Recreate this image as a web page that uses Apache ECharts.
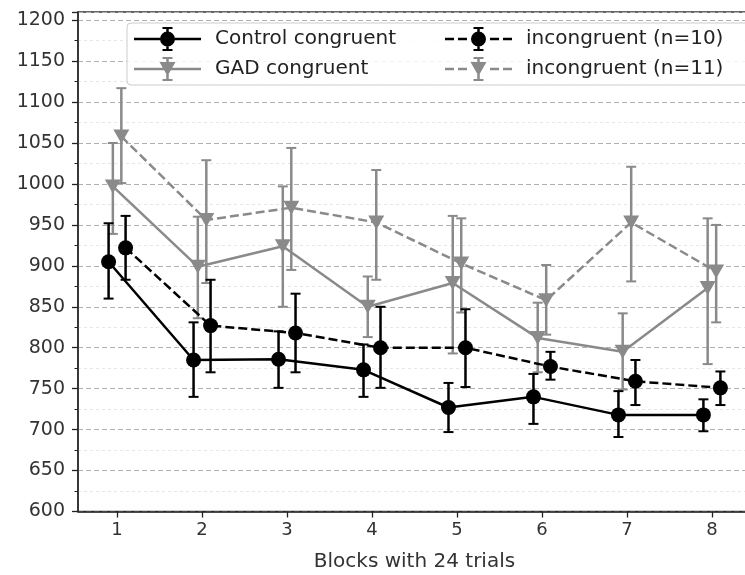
<!DOCTYPE html>
<html>
<head>
<meta charset="utf-8">
<script src="https://cdn.jsdelivr.net/npm/echarts@6/dist/echarts.min.js"></script>
<style>
html,body{margin:0;padding:0;background:#fff;}
#chart{width:745px;height:575px;}
</style>
</head>
<body>
<div id="chart"></div>
<script>
// ---- data ----
const blocks = [1, 2, 3, 4, 5, 6, 7, 8];
const yTicks = [600, 650, 700, 750, 800, 850, 900, 950, 1000, 1050, 1100, 1150, 1200];

const controlCong   = [905, 785, 786, 773, 727, 740, 718, 718];
const controlCongLo = [860, 740, 751, 740, 697, 707, 691, 698];
const controlCongHi = [952, 831, 820, 804, 757, 768, 747, 737];

const controlIncong   = [922, 827, 818, 800, 800, 777, 759, 751];
const controlIncongLo = [883, 770, 770, 751, 752, 761, 730, 730];
const controlIncongHi = [961, 883, 866, 850, 847, 795, 785, 771];

const gadCong   = [997, 899, 924, 850, 879, 812, 795, 873];
const gadCongLo = [939, 836, 850, 813, 793, 770, 749, 780];
const gadCongHi = [1050, 960, 997, 887, 961, 855, 842, 958];

const gadIncong   = [1058, 956, 971, 953, 903, 858, 953, 893];
const gadIncongLo = [1001, 879, 895, 883, 843, 816, 881, 831];
const gadIncongHi = [1117, 1029, 1044, 1017, 958, 901, 1021, 950];

const seriesNames = ['Control congruent', 'GAD congruent', 'incongruent (n=10)', 'incongruent (n=11)'];
const xTitle = 'Blocks with 24 trials';

// ---- styles ----
const BLACK = '#000000';
const GRAY = '#8a8a8a';
const FONT = 'DejaVu Sans';

// legend icons (handle with error bar), 67 x 24 box
const solidLine = 'M0 10.75 L67 10.75 L67 13.25 L0 13.25 Z ';
const dashLine = 'M0 10.75 L9 10.75 L9 13.25 L0 13.25 Z M13 10.75 L22 10.75 L22 13.25 L13 13.25 Z M45 10.75 L54 10.75 L54 13.25 L45 13.25 Z M58 10.75 L67 10.75 L67 13.25 L58 13.25 Z ';
const errBar = 'M32.25 1 L34.75 1 L34.75 23 L32.25 23 Z M28.5 0 L38.5 0 L38.5 2 L28.5 2 Z M28.5 22 L38.5 22 L38.5 24 L28.5 24 Z ';
const circ = 'M41 12 A7.5 7.5 0 1 1 26 12 A7.5 7.5 0 1 1 41 12 Z';
const tri = 'M25.5 5 L41.5 5 L33.5 19 Z';
const icons = {
  cc: 'path://' + solidLine + errBar + circ,
  gc: 'path://' + solidLine + errBar + tri,
  ci: 'path://' + dashLine + errBar + circ,
  gi: 'path://' + dashLine + errBar + tri
};

function pts(vals, off) { return vals.map((v, i) => [blocks[i] + off, v]); }

function lineSeries(name, vals, off, color, dashed, sym, z) {
  return {
    type: 'line', name: name, data: pts(vals, off), z: z,
    symbol: sym === 'circle' ? 'circle' : 'triangle',
    symbolRotate: sym === 'circle' ? 0 : 180,
    symbolSize: sym === 'circle' ? 15 : [16, 14],
    itemStyle: { color: color },
    lineStyle: { color: color, width: 2.5, type: dashed ? [9, 4] : 'solid' },
    animation: false
  };
}

function errSeries(name, lo, hi, off, color, z) {
  return {
    type: 'custom', name: name + ' err', z: z, silent: true, animation: false,
    data: lo.map((l, i) => [blocks[i] + off, l, hi[i]]),
    encode: { x: 0, y: [1, 2] },
    renderItem: function (params, api) {
      const x = api.value(0);
      const p1 = api.coord([x, api.value(1)]);
      const p2 = api.coord([x, api.value(2)]);
      const cw = 5;
      return {
        type: 'group',
        children: [
          { type: 'line', shape: { x1: p1[0], y1: p1[1], x2: p2[0], y2: p2[1] }, style: { stroke: color, lineWidth: 2.5 } },
          { type: 'line', shape: { x1: p1[0] - cw, y1: p1[1], x2: p1[0] + cw, y2: p1[1] }, style: { stroke: color, lineWidth: 2 } },
          { type: 'line', shape: { x1: p2[0] - cw, y1: p2[1], x2: p2[0] + cw, y2: p2[1] }, style: { stroke: color, lineWidth: 2 } }
        ]
      };
    }
  };
}

const chart = echarts.init(document.getElementById('chart'), null, { renderer: 'canvas' });

const legendText = { fontFamily: FONT, fontSize: 20, color: '#222', padding: [0, 0, 0, 9] };

const option = {
  backgroundColor: '#ffffff',
  textStyle: { fontFamily: FONT },
  grid: {
    left: 78, right: -6, top: 12, bottom: 63.5,
    outerBoundsMode: 'none', containLabel: false,
    show: true, borderColor: '#333', borderWidth: 1.3, backgroundColor: 'transparent'
  },
  legend: [
    {
      data: [
        { name: seriesNames[0], icon: icons.cc },
        { name: seriesNames[1], icon: icons.gc }
      ],
      orient: 'vertical', left: 127, top: 23,
      padding: [4, 400, 4, 7],
      itemWidth: 67, itemHeight: 24, itemGap: 6,
      textStyle: legendText,
      itemStyle: { borderWidth: 0 },
      backgroundColor: 'rgba(255,255,255,0.85)',
      borderColor: '#cccccc', borderWidth: 1, borderRadius: 4,
      z: 5, selectedMode: false
    },
    {
      data: [
        { name: seriesNames[2], icon: icons.ci },
        { name: seriesNames[3], icon: icons.gi }
      ],
      orient: 'vertical', left: 445, top: 23,
      padding: [4, 5, 4, 0],
      itemWidth: 67, itemHeight: 24, itemGap: 6,
      textStyle: legendText,
      itemStyle: { borderWidth: 0 },
      z: 6, selectedMode: false
    }
  ],
  xAxis: {
    type: 'value', min: 0.54, max: 8.46,
    name: xTitle, nameLocation: 'middle', nameGap: 40,
    nameTextStyle: { fontFamily: FONT, fontSize: 20, color: '#333' },
    axisLine: { show: true, onZero: false, lineStyle: { color: '#222', width: 1.5 } },
    axisTick: { show: true, customValues: blocks, length: 6, inside: false, lineStyle: { color: '#222', width: 1.3 } },
    axisLabel: { customValues: blocks, margin: 10, fontFamily: FONT, fontSize: 18, color: '#333' },
    splitLine: { show: false }
  },
  yAxis: {
    type: 'value', min: 600, max: 1210, interval: 50,
    axisLine: { show: true, onZero: false, lineStyle: { color: '#222', width: 1.5 } },
    axisTick: { show: true, length: 6, lineStyle: { color: '#222', width: 1.3 } },
    minorTick: { show: true, splitNumber: 2, length: 3.5, lineStyle: { color: '#222', width: 1 } },
    axisLabel: { margin: 13, fontFamily: FONT, fontSize: 19, color: '#333', showMaxLabel: false,
      formatter: v => (yTicks.indexOf(v) >= 0 ? String(v) : '') },
    splitLine: { show: true, lineStyle: { color: '#b0b0b0', width: 1, type: [5, 3] } },
    minorSplitLine: { show: true, lineStyle: { color: '#e6e6e6', width: 1, type: [3, 3] } }
  },
  series: [
    errSeries(seriesNames[1], gadCongLo, gadCongHi, -0.05, GRAY, 2),
    lineSeries(seriesNames[1], gadCong, -0.05, GRAY, false, 'tri', 2),
    errSeries(seriesNames[3], gadIncongLo, gadIncongHi, 0.05, GRAY, 2),
    lineSeries(seriesNames[3], gadIncong, 0.05, GRAY, true, 'tri', 2),
    errSeries(seriesNames[0], controlCongLo, controlCongHi, -0.1, BLACK, 3),
    lineSeries(seriesNames[0], controlCong, -0.1, BLACK, false, 'circle', 3),
    errSeries(seriesNames[2], controlIncongLo, controlIncongHi, 0.1, BLACK, 3),
    lineSeries(seriesNames[2], controlIncong, 0.1, BLACK, true, 'circle', 3)
  ]
};
chart.setOption(option);
</script>
</body>
</html>
